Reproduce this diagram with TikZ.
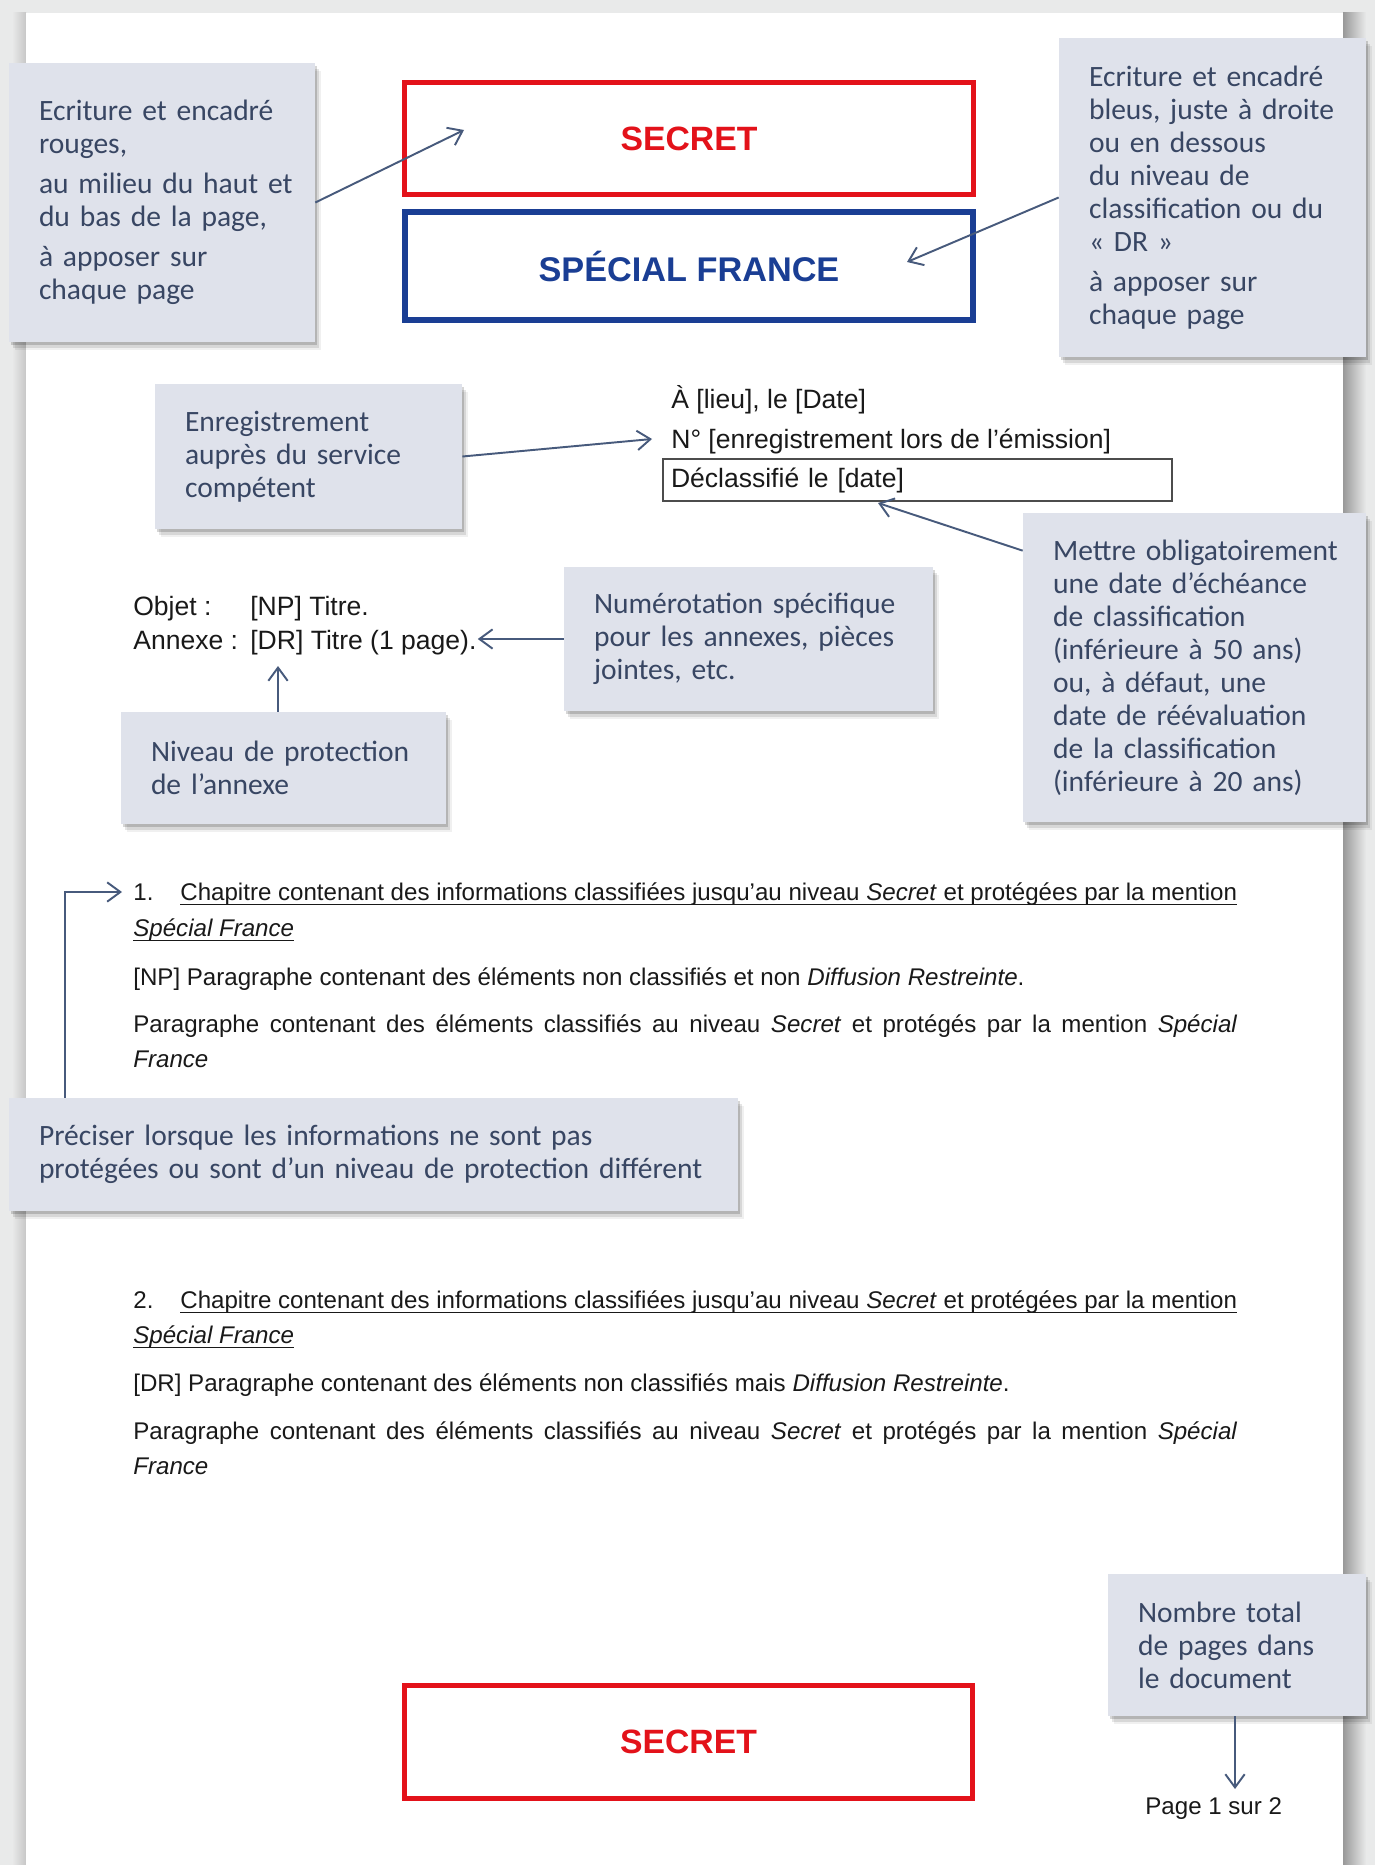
\documentclass[tikz,border=0pt]{standalone}
\usepackage{fontspec}
\setmainfont{Liberation Sans}
\newfontfamily\notefont{Carlito}
\usetikzlibrary{arrows.meta}
\usetikzlibrary{shadows}

\newlength\pxu
\setlength\pxu{0.02cm}
\hyphenpenalty=10000
\exhyphenpenalty=10000

\definecolor{pageGray}{RGB}{233,234,234}
\definecolor{noteFill}{RGB}{223,226,235}
\definecolor{noteInk}{RGB}{56,70,99}
\definecolor{lineInk}{RGB}{71,90,124}
\definecolor{secretRed}{RGB}{227,18,26}
\definecolor{franceBlue}{RGB}{26,62,148}

\tikzset{
	note/.style={fill=noteFill, text=noteInk, align=left, inner xsep=30\pxu, inner ysep=0pt,
		font=\notefont\fontsize{16.8pt}{18.8pt}\selectfont,
		drop shadow={shadow xshift=1.2pt, shadow yshift=-1.6pt, opacity=.16, fill=black},
		drop shadow={shadow xshift=2.4pt, shadow yshift=-3.2pt, opacity=.10, fill=black},
		drop shadow={shadow xshift=3.6pt, shadow yshift=-4.8pt, opacity=.06, fill=black}},
	noteline/.style={draw=lineInk, line width=1.1pt, -{Straight Barb[length=7.5pt,width=11pt]}},
	body/.style={inner sep=0pt, anchor=base west, text=black!90, font=\fontsize{13.72pt}{20.5pt}\selectfont},
	head/.style={inner sep=0pt, anchor=base west, text=black!90, font=\fontsize{15.1pt}{22pt}\selectfont},
	stampbox/.style={line width=5\pxu, minimum width=569\pxu, minimum height=112\pxu, font=\bfseries\fontsize{19.2pt}{22pt}\selectfont},
	uline/.style={draw=black!90, line width=0.6pt}
}

\begin{document}
\begin{tikzpicture}[x=0.02cm,y=-0.02cm]
		\useasboundingbox (0,0) rectangle (1375,1865);
		\clip (0,0) rectangle (1375,1865);
		\fill[pageGray] (0,0) rectangle (1375,1865);
		\shade[left color=pageGray, right color=black!22] (12,13) rectangle (26,1865);
		\shade[left color=black!40, right color=pageGray] (1343,13) rectangle (1366,1865);
		\fill[white] (26,13) rectangle (1343,1865);
		
		% marquages
		\node[stampbox, draw=secretRed, text=secretRed] (secretTop) at (689,138.5) {SECRET};
		\node[stampbox, draw=franceBlue, text=franceBlue, line width=6\pxu, minimum width=568\pxu, minimum height=108\pxu, font=\bfseries\fontsize{19.5pt}{22pt}\selectfont] (france) at (689,266) {SPÉCIAL FRANCE};
		\node[stampbox, draw=secretRed, text=secretRed, minimum width=568\pxu, minimum height=113\pxu] (secretBottom) at (688.5,1742) {SECRET};
		
		% en-tete
		\node[head] (lieu) at (671,408) {À [lieu], le [Date]};
		\node[head] (numero) at (671,448) {N° [enregistrement lors de l’émission]};
		\node[draw=black!70, line width=0.6pt, minimum width=509\pxu, minimum height=42\pxu, text width=493\pxu, inner xsep=8\pxu, inner ysep=0pt, align=left, text=black!90, font=\fontsize{15.1pt}{18pt}\selectfont] (declass) at (917.5,480) {Déclassifié le [date]};
		
		\node[head] (objet) at (133,615) {Objet :};
		\node[head] (objetTitre) at (250,615) {[NP] Titre.};
		\node[head] (annexe) at (133,649) {Annexe :};
		\node[head, inner xsep=1\pxu] (annexeTitre) at (249,649) {[DR] Titre (1 page).};
		
		% chapitre 1
		\node[body] (numOne) at (133,900) {1.};
		\node[body] (chapOne) at (180,900) {Chapitre contenant des informations classifiées jusqu’au niveau \textit{Secret} et protégées par la mention};
		\node[body] (chapOneEnd) at (133,936) {\textit{Spécial France}};
		\node[body] (npPara) at (133,985) {[NP] Paragraphe contenant des éléments non classifiés et non \textit{Diffusion Restreinte}.};
		\node[body] (secOne) at (133,1032) {\makebox[1104\pxu][s]{Paragraphe contenant des éléments classifiés au niveau \textit{Secret} et protégés par la mention \textit{Spécial}}};
		\node[body] (secOneEnd) at (133,1067) {\textit{France}};
		\draw[uline] ([yshift=-2.3pt]chapOne.base west) -- ([yshift=-2.3pt]chapOne.base east);
		\draw[uline] ([yshift=-2.3pt]chapOneEnd.base west) -- ([yshift=-2.3pt]chapOneEnd.base east);
		
		% chapitre 2
		\node[body] (numTwo) at (133,1308) {2.};
		\node[body] (chapTwo) at (180,1308) {Chapitre contenant des informations classifiées jusqu’au niveau \textit{Secret} et protégées par la mention};
		\node[body] (chapTwoEnd) at (133,1343) {\textit{Spécial France}};
		\node[body] (drPara) at (133,1391) {[DR] Paragraphe contenant des éléments non classifiés mais \textit{Diffusion Restreinte}.};
		\node[body] (secTwo) at (133,1439) {\makebox[1104\pxu][s]{Paragraphe contenant des éléments classifiés au niveau \textit{Secret} et protégés par la mention \textit{Spécial}}};
		\node[body] (secTwoEnd) at (133,1474) {\textit{France}};
		\draw[uline] ([yshift=-2.3pt]chapTwo.base west) -- ([yshift=-2.3pt]chapTwo.base east);
		\draw[uline] ([yshift=-2.3pt]chapTwoEnd.base west) -- ([yshift=-2.3pt]chapTwoEnd.base east);
		
		\node[body] (pageNum) at (1145,1814) {Page 1 sur 2};
		
		% encadres
		\node[note, minimum width=306\pxu, minimum height=279\pxu, text width=246\pxu] (noteA) at (162,202.5) {Ecriture et encadré\\ rouges,\\[4pt] au~milieu~du~haut~et\\ du bas de la page,\\[4pt] à apposer sur\\ chaque page};
		\node[note, minimum width=307\pxu, minimum height=319\pxu, text width=247\pxu] (noteB) at (1212.5,197.5) {Ecriture et encadré\\ bleus,~juste~à~droite\\ ou en dessous\\ du niveau de\\ classification~ou~du\\ «~DR~»\\[4pt] à apposer sur\\ chaque page};
		\node[note, minimum width=307\pxu, minimum height=145\pxu, text width=247\pxu] (noteC) at (308.5,456.5) {Enregistrement\\ auprès du service\\ compétent};
		\node[note, minimum width=343\pxu, minimum height=309\pxu, text width=283\pxu] (noteD) at (1194.5,667.5) {Mettre~obligatoirement\\ une date d’échéance\\ de classification\\ (inférieure à 50 ans)\\ ou, à défaut, une\\ date~de~réévaluation\\ de la classification\\ (inférieure à 20 ans)};
		\node[note, minimum width=369\pxu, minimum height=144\pxu, text width=309\pxu] (noteE) at (748.5,639) {Numérotation~spécifique\\ pour~les~annexes,~pièces\\ jointes, etc.};
		\node[note, minimum width=325\pxu, minimum height=112\pxu, text width=265\pxu] (noteF) at (283.5,768) {Niveau~de~protection\\ de l’annexe};
		\node[note, minimum width=729\pxu, minimum height=113\pxu, text width=669\pxu] (noteG) at (373.5,1154.5) {Préciser lorsque les informations ne sont pas\\ protégées~ou~sont~d’un~niveau~de~protection~différent};
		\node[note, minimum width=258\pxu, minimum height=142\pxu, text width=198\pxu] (noteH) at (1237,1645) {Nombre total\\ de pages dans\\ le document};
		
		% fleches
		\coordinate (secretTip) at (464,130);
		\coordinate (franceTip) at (907,262);
		\coordinate (numeroTip) at (652,439);
		\coordinate (dateTip) at (878,503);
		\coordinate (drTip) at (278,666);
		\coordinate (bracket) at (65,892);
		\coordinate (chapTip) at (122,892);
		\coordinate (pageTip) at (1235,1789);
		
		\draw[noteline] (noteA.east) -- (secretTip);
		\draw[noteline] (noteB.west) -- (franceTip);
		\draw[noteline] (noteC.east) -- (numeroTip);
		\draw[noteline] ([yshift=-38\pxu]noteD.north west) -- (dateTip);
		\draw[noteline] (noteE.west) -- (noteE.west -| annexeTitre.east);
		\draw[noteline] (noteF.north -| drTip) -- (drTip);
		\draw[noteline] (noteG.north -| bracket) -- (bracket) -- (chapTip);
		\draw[noteline] (noteH.south -| pageTip) -- (pageTip);
		
\end{tikzpicture}
\end{document}
